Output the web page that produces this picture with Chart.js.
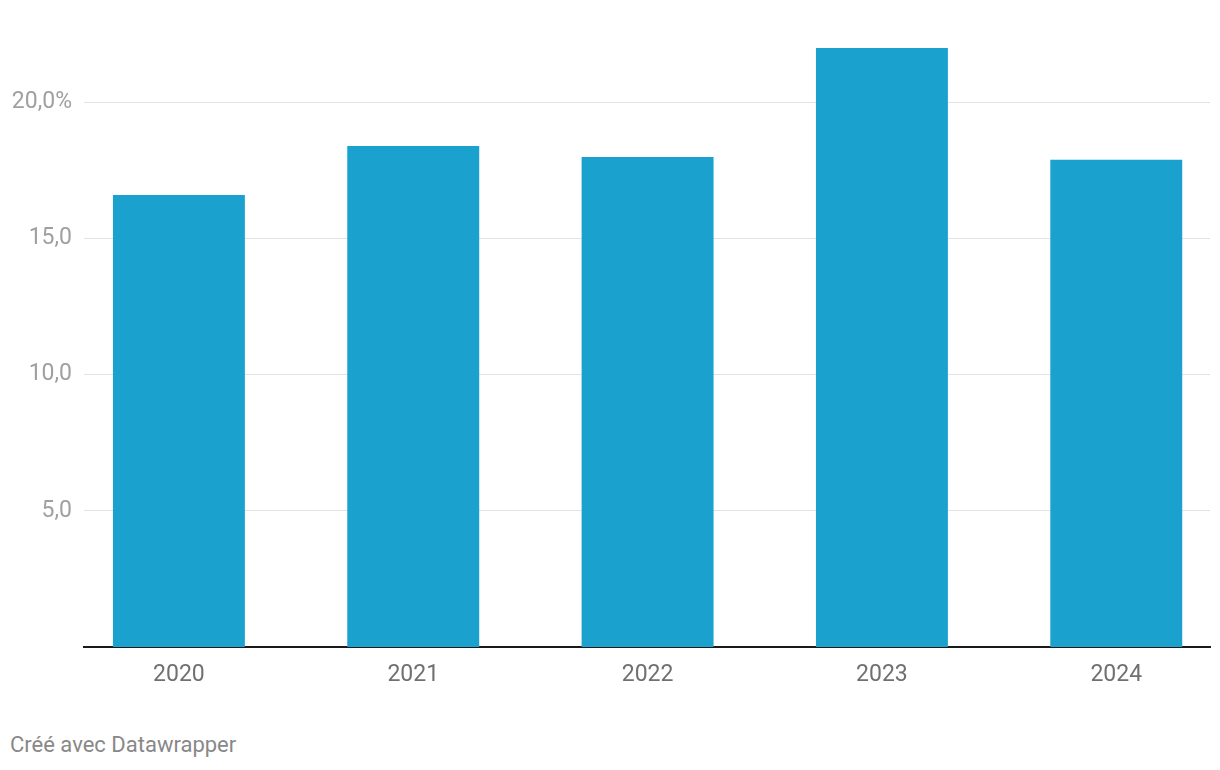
<!DOCTYPE html>
<html>
<head>
<meta charset="utf-8">
<script src="https://cdn.jsdelivr.net/npm/chart.js@4"></script>
<style>
  html, body { margin: 0; padding: 0; background: #fff; }
  #wrap { position: relative; width: 1220px; height: 770px; }
  #chart { position: absolute; left: 0; top: 0; }
  #footer {
    position: absolute; left: 10px; top: 732px;
    font-family: Roboto, sans-serif; font-size: 22px; color: #888;
  }
</style>
</head>
<body>
<div id="wrap">
  <canvas id="chart" width="1220" height="700"></canvas>
  <div id="footer">Créé avec Datawrapper</div>
</div>
<script>
// Données
const years = ['2020', '2021', '2022', '2023', '2024'];
const values = [16.6, 18.4, 18.0, 22.0, 17.9];
const yTickValues = [5, 10, 15, 20];
const yTickLabels = ['5,0', '10,0', '15,0', '20,0%'];

document.addEventListener('DOMContentLoaded', function() {
    const ctx = document.getElementById('chart').getContext('2d');

    new Chart(ctx, {
        type: 'bar',
        data: {
            datasets: [{
                data: values.map((v, i) => ({ x: i, y: v })),
                backgroundColor: '#1aa1cd',
                borderWidth: 0,
                barPercentage: 0.563,
                categoryPercentage: 1.0
            }]
        },
        options: {
            responsive: false,
            animation: false,
            layout: {
                padding: { top: 48, right: 10, bottom: 3, left: 0 }
            },
            plugins: {
                legend: { display: false },
                tooltip: { enabled: false }
            },
            scales: {
                // axe linéaire pour placer les barres comme Datawrapper
                x: {
                    type: 'linear',
                    bounds: 'data',
                    offset: false,
                    min: -0.405,
                    max: 4.4,
                    grid: { display: false, drawTicks: false },
                    border: { display: true, color: '#1a1a1a', width: 2 },
                    afterBuildTicks: function(axis) {
                        axis.ticks = years.map((y, i) => ({ value: i }));
                    },
                    afterFit: function(axis) {
                        axis.height = 50;
                    },
                    ticks: {
                        padding: 14,
                        color: '#707070',
                        font: { family: 'Roboto', size: 23 },
                        callback: function(value) {
                            return years[value];
                        }
                    }
                },
                y: {
                    min: 0,
                    max: 22,
                    grid: { color: '#e2e2e2', lineWidth: 1, drawTicks: false },
                    border: { display: false },
                    afterBuildTicks: function(axis) {
                        axis.ticks = yTickValues.map(v => ({ value: v }));
                    },
                    afterFit: function(axis) {
                        axis.width = 84;
                    },
                    ticks: {
                        padding: 12,
                        color: '#a0a0a0',
                        font: { family: 'Roboto', size: 23 },
                        callback: function(value) {
                            const idx = yTickValues.indexOf(value);
                            return idx >= 0 ? yTickLabels[idx] : '';
                        }
                    }
                }
            }
        }
    });
});
</script>
</body>
</html>
